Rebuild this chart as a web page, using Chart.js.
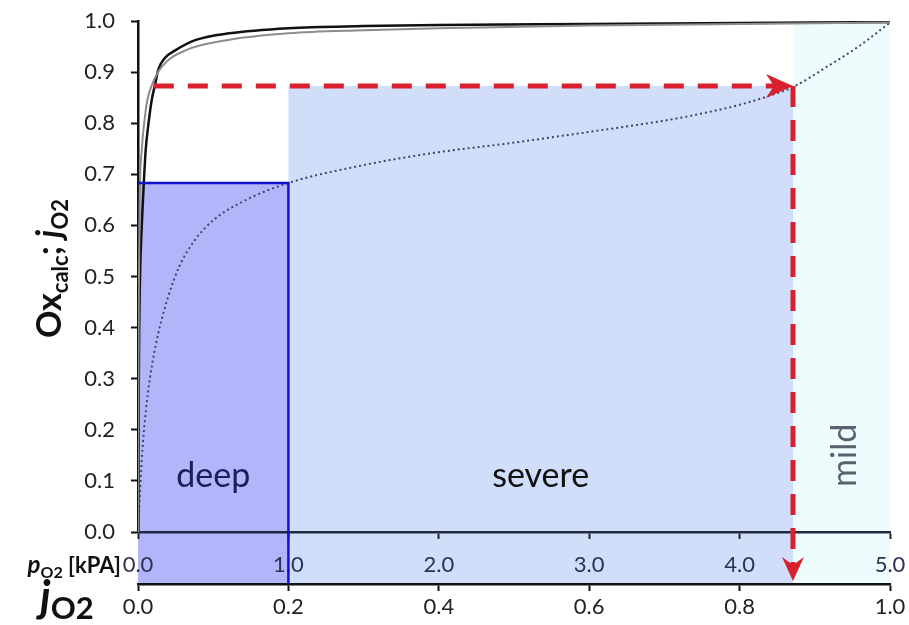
<!DOCTYPE html>
<html><head><meta charset="utf-8">
<script src="https://cdn.jsdelivr.net/npm/chart.js@4.4.1/dist/chart.umd.min.js"></script>
<style>html,body{margin:0;padding:0;background:#fff}#wrap{width:909px;height:625px;position:relative}</style>
</head><body><div id="wrap"><canvas id="c"></canvas></div>
<script>
// Tick values
const oxTicks  = [0.0,0.1,0.2,0.3,0.4,0.5,0.6,0.7,0.8,0.9,1.0];
const pO2Ticks = [0.0,1.0,2.0,3.0,4.0,5.0];
const jO2Ticks = [0.0,0.2,0.4,0.6,0.8,1.0];

// Black solid curve: Ox_calc vs pO2 [kPa]
const blackP  = [0,0.003,0.008,0.015,0.022,0.033,0.051,0.07,0.091,0.113,0.135,0.18,0.25,0.385,0.607,1.0,1.5,2.0,3.0,4.0,5.0];
const blackOx = [0,0.20,0.40,0.52,0.58,0.65,0.747,0.80,0.845,0.875,0.905,0.928,0.943,0.963,0.976,0.986,0.990,0.992,0.994,0.996,0.998];
// Grey solid curve: Ox_calc vs pO2 [kPa]
const greyP   = [0,0.002,0.005,0.011,0.025,0.045,0.062,0.093,0.16,0.32,0.6,1.0,1.5,2.0,3.0,4.0,5.0];
const greyOx  = [0,0.25,0.45,0.65,0.747,0.81,0.845,0.875,0.911,0.943,0.963,0.976,0.982,0.986,0.991,0.994,0.997];
// Dotted curve: Ox vs jO2
const dotJ  = [0,0.002,0.005,0.008,0.013,0.019,0.028,0.04,0.055,0.075,0.1,0.144,0.2,0.3,0.394,0.5,0.6,0.7,0.74,0.8,0.836,0.871,0.92,0.96,1.0];
const dotOx = [0,0.06,0.14,0.20,0.27,0.33,0.395,0.46,0.52,0.57,0.61,0.65,0.683,0.718,0.742,0.762,0.783,0.805,0.816,0.836,0.852,0.871,0.914,0.952,0.997];

// Hypoxia regions on the jO2 axis
const regionNames = ['deep','severe','mild'];
const regionFrom  = [0.0, 0.2, 0.871];
const regionTo    = [0.2, 0.871, 1.0];
const regionTop   = [0.683, 0.873, 1.0];
// Red arrow (jO2 start, jO2 end, Ox level)
const arrowFromJ = 0.021;
const arrowToJ   = 0.871;
const arrowOx    = 0.873;

const regionFill  = ['#b3b5fa','#d1defa','#eefcfd'];
const regionText  = ['#1a1f5c','#111111','#5a6070'];

const pts = (xs, ys) => xs.map((x,i)=>({x:x, y:ys[i]}));

function drawRich(ctx, parts, x, y){
  let cx = x;
  for (const [t,f,dy] of parts){ ctx.font=f; ctx.fillText(t,cx,y+dy); cx += ctx.measureText(t).width; }
  return cx-x;
}
function measureRich(ctx, parts){
  let w=0; for (const [t,f] of parts){ ctx.font=f; w+=ctx.measureText(t).width; } return w;
}
function arrowHead(ctx, tx, ty, ang, len, half, notch){
  ctx.save(); ctx.translate(tx,ty); ctx.rotate(ang);
  ctx.beginPath(); ctx.moveTo(0,0); ctx.lineTo(-len,-half); ctx.lineTo(-len+notch,0); ctx.lineTo(-len,half); ctx.closePath(); ctx.fill();
  ctx.restore();
}

const decor = {
  id:'decor',
  beforeDraw(chart){
    const {ctx, scales:{xj,y}} = chart;
    ctx.save();
    ctx.fillStyle='#fff'; ctx.fillRect(0,0,chart.width,chart.height);
    const bottom = xj.top;
    regionNames.forEach((n,i)=>{
      const x0=xj.getPixelForValue(regionFrom[i]), x1=xj.getPixelForValue(regionTo[i]);
      const yt=y.getPixelForValue(regionTop[i]);
      ctx.fillStyle=regionFill[i];
      ctx.fillRect(x0,yt,x1-x0,bottom-yt);
    });
    ctx.restore();
  },
  afterDraw(chart){
    const {ctx, chartArea:a, scales:{xj,xp,y}} = chart;
    ctx.save();
    const bottom = xj.top;
    // blue border of deep region
    ctx.strokeStyle='#1212cc'; ctx.lineWidth=2.5;
    const bx0=xj.getPixelForValue(regionFrom[0]), bx1=xj.getPixelForValue(regionTo[0]), by=y.getPixelForValue(regionTop[0]);
    ctx.beginPath(); ctx.moveTo(bx0,by); ctx.lineTo(bx1,by); ctx.lineTo(bx1,bottom); ctx.stroke();
    // red dashed arrows
    const rx0=xj.getPixelForValue(arrowFromJ), rx1=xj.getPixelForValue(arrowToJ), ry=y.getPixelForValue(arrowOx);
    ctx.strokeStyle='#d9202f'; ctx.fillStyle='#d9202f'; ctx.lineWidth=5; ctx.setLineDash([20,14]);
    ctx.beginPath(); ctx.moveTo(rx0,ry); ctx.lineTo(rx1-18,ry); ctx.stroke();
    ctx.setLineDash([21,13]);
    ctx.beginPath(); ctx.moveTo(rx1,ry); ctx.lineTo(rx1,bottom-14); ctx.stroke();
    ctx.setLineDash([]);
    arrowHead(ctx, rx1, ry, 0, 27, 12, 8);
    arrowHead(ctx, rx1, bottom-3, Math.PI/2, 24, 11, 8);
    // region labels
    ctx.textAlign='center'; ctx.textBaseline='alphabetic';
    ctx.font='34px Lato';
    const ly = y.getPixelForValue(0.088);
    for (let i=0;i<2;i++){
      ctx.fillStyle=regionText[i];
      ctx.fillText(regionNames[i], (xj.getPixelForValue(regionFrom[i])+xj.getPixelForValue(regionTo[i]))/2, ly);
    }
    ctx.save();
    ctx.translate((xj.getPixelForValue(regionFrom[2])+xj.getPixelForValue(regionTo[2]))/2+15, y.getPixelForValue(0.15));
    ctx.rotate(-Math.PI/2); ctx.fillStyle=regionText[2]; ctx.fillText(regionNames[2],0,0);
    ctx.restore();
    // axis titles
    ctx.textAlign='left'; ctx.textBaseline='alphabetic'; ctx.fillStyle='#111';
    const pParts=[['p','italic bold 24px Lato',0],['O2','bold 16px Lato',5],[' [kPA]','bold 22px Lato',0]];
    const pw=measureRich(ctx,pParts);
    drawRich(ctx,pParts,121-pw,573);
    const jParts=[['j','italic bold 44px Lato',0],['O2','bold 31px Lato',7]];
    drawRich(ctx,jParts,40,612);
    const yParts=[['Ox','bold 34px Lato',0],['calc','bold 22px Lato',7],['; ','bold 34px Lato',0],['j','italic bold 34px Lato',0],['O2','bold 22px Lato',7]];
    const yw=measureRich(ctx,yParts);
    ctx.translate(61,(a.top+a.bottom)/2-8); ctx.rotate(-Math.PI/2);
    drawRich(ctx,yParts,-yw/2,0);
    ctx.restore();
  }
};

const tickFont = {family:'Lato', size:22};
const fmt = v => Number(v).toFixed(1);

new Chart(document.getElementById('c'), {
  type:'scatter',
  data:{datasets:[
    {label:'Ox (grey)', data:pts(greyP,greyOx), xAxisID:'xp', yAxisID:'y', showLine:true, borderColor:'#8c8c8c', borderWidth:2, pointRadius:0, cubicInterpolationMode:'monotone'},
    {label:'Ox (black)', data:pts(blackP,blackOx), xAxisID:'xp', yAxisID:'y', showLine:true, borderColor:'#111111', borderWidth:2.5, pointRadius:0, cubicInterpolationMode:'monotone'},
    {label:'jO2', data:pts(dotJ,dotOx), xAxisID:'xj', yAxisID:'y', showLine:true, borderColor:'#3a4866', borderWidth:2, borderDash:[2,3], pointRadius:0, cubicInterpolationMode:'monotone'}
  ]},
  options:{
    responsive:true, maintainAspectRatio:false, animation:false,
    layout:{padding:{top:21,right:19,left:0,bottom:0}},
    plugins:{legend:{display:false}, tooltip:{enabled:false}},
    scales:{
      y:{type:'linear', position:'left', min:0, max:1,
        afterFit(s){s.width=138; s.paddingTop=13; s.paddingBottom=13;},
        afterBuildTicks(s){s.ticks=oxTicks.map(v=>({value:v}));},
        ticks:{callback:fmt, font:tickFont, color:'#222', padding:16},
        grid:{drawOnChartArea:false, drawTicks:true, tickLength:7, tickColor:'#111', tickWidth:2},
        border:{display:true, color:'#111', width:2.5}},
      xp:{type:'linear', position:'bottom', min:0, max:5, weight:0,
        afterFit(s){s.height=52; s.paddingLeft=0; s.paddingRight=0;},
        afterBuildTicks(s){s.ticks=pO2Ticks.map(v=>({value:v}));},
        ticks:{callback:fmt, font:tickFont, color:'#2a3350', padding:13, maxRotation:0},
        grid:{drawOnChartArea:false, drawTicks:true, tickLength:7, tickColor:'#222', tickWidth:2},
        border:{display:true, color:'#1f2a40', width:2.5}},
      xj:{type:'linear', position:'bottom', min:0, max:1, weight:1,
        afterFit(s){s.height=41; s.paddingLeft=0; s.paddingRight=0;},
        afterBuildTicks(s){s.ticks=jO2Ticks.map(v=>({value:v}));},
        ticks:{callback:fmt, font:tickFont, color:'#222', padding:3, maxRotation:0},
        grid:{drawOnChartArea:false, drawTicks:true, tickLength:7, tickColor:'#111', tickWidth:2},
        border:{display:true, color:'#111', width:2.5}}
    }
  },
  plugins:[decor]
});
</script>
</body></html>
